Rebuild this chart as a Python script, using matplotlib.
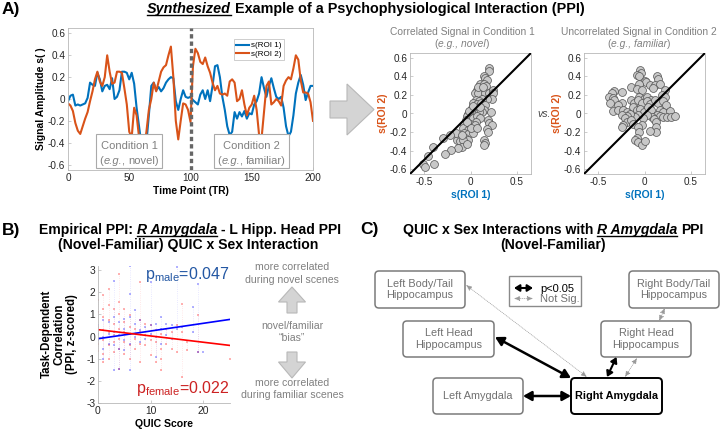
import numpy as np
import matplotlib
matplotlib.use("Agg")
import matplotlib.pyplot as plt
from matplotlib.patches import FancyBboxPatch, Rectangle, Polygon
from matplotlib.ticker import FuncFormatter

plt.rcParams['font.family'] = ['Liberation Sans', 'DejaVu Sans']
plt.rcParams['axes.unicode_minus'] = False
plt.rcParams['mathtext.fontset'] = 'custom'
plt.rcParams['mathtext.rm'] = 'Liberation Sans'
plt.rcParams['mathtext.it'] = 'Liberation Sans:italic'
plt.rcParams['mathtext.bf'] = 'Liberation Sans:bold'

# ---------------- data ----------------
# A) synthesized time series (every 2 TR)
tr = np.arange(0, 201, 2)
roi1 = [-0.02, 0.03, 0.04, -0.06, -0.05, -0.06, -0.05, -0.04, 0.01, 0.15,
        0.13, 0.12, 0.24, 0.18, 0.07, 0.12, 0.13, 0.09, 0.19, 0.0,
        0.02, 0.08, 0.25, 0.25, 0.24, 0.18, 0.24, 0.14, -0.08, -0.25,
        -0.42, -0.5, -0.4, -0.15, 0.12, 0.15, 0.08, 0.11, 0.07, 0.1,
        0.15, 0.18, 0.2, 0.19, -0.02, -0.1, 0.0, 0.08, 0.02, 0.01,
        0.02, -0.01, -0.03, -0.05, 0.04, 0.08, 0.0, 0.08, -0.02, 0.12,
        0.3, 0.31, 0.2, 0.02, -0.1, -0.25, -0.33, -0.3, -0.12, -0.18,
        -0.12, -0.16, -0.11, -0.18, -0.13, -0.14, -0.05, -0.02, 0.05, 0.2,
        0.1, 0.02, 0.12, 0.19, 0.1, 0.02, 0.0, 0.02, -0.08, -0.25,
        -0.34, -0.3, -0.15, 0.05, 0.15, 0.22, 0.13, -0.01, 0.06, 0.12,
        0.12]
roi2 = [-0.04, -0.06, -0.11, -0.22, -0.29, -0.32, -0.25, -0.18, -0.12, -0.02,
        0.07, 0.18, 0.25, 0.16, 0.12, 0.2, 0.40, 0.25, 0.14, 0.15,
        0.25, 0.25, 0.24, 0.1, -0.05, -0.3, -0.35, -0.08, -0.15, -0.35,
        -0.45, -0.45, -0.3, -0.1, 0.0, 0.15, 0.07, 0.16, 0.25, 0.29,
        0.31, 0.4, 0.48, 0.2, -0.2, -0.37, -0.2, -0.04, -0.05, -0.1,
        -0.21, 0.3, 0.46, 0.42, 0.34, 0.32, 0.38, 0.3, 0.24, 0.15,
        0.08, 0.12, 0.05, 0.04, 0.05, 0.03, 0.16, 0.18, 0.15, -0.02,
        0.0, 0.08, -0.05, -0.15, -0.08, -0.05, 0.03, -0.1, -0.33, -0.36,
        -0.12, 0.12, 0.16, -0.05, -0.03, 0.0, -0.02, -0.06, 0.12, 0.17,
        0.2, 0.18, 0.28, 0.4, 0.36, 0.17, 0.06, 0.06, 0.05, -0.03,
        -0.2]

# A) scatter, condition 1 (correlated)
novel_x = [0.199, 0.199, 0.14, 0.156, 0.174, 0.10, 0.14, 0.163, 0.067, 0.113,
           0.05, 0.085, 0.156, 0.199, 0.246, 0.246, 0.235, 0.174, 0.12, 0.056,
           0.092, 0.03, 0.067, 0.113, 0.156, 0.14, 0.12, 0.22, 0.078, 0.092,
           0.03, 0.013, -0.023, -0.005, -0.04, -0.05, -0.005, 0.03, 0.067, 0.1,
           0.056, 0.185, 0.199, 0.235, -0.066, -0.04, -0.005, 0.013, 0.05, -0.076,
           -0.03, 0.02, 0.174, -0.066, -0.023, 0.03, 0.185, -0.06, -0.023, -0.148,
           -0.11, -0.076, -0.087, -0.13, -0.04, 0.15, 0.16, 0.15, -0.16, -0.22,
           -0.30, -0.21, -0.27, -0.40, -0.46, -0.51, -0.49, -0.39, 0.078, 0.13,
           0.013, -0.016, 0.03, -0.04, 0.0, 0.067, -0.09, 0.10]
novel_y = [0.485, 0.46, 0.40, 0.38, 0.36, 0.32, 0.32, 0.30, 0.25, 0.26,
           0.22, 0.22, 0.22, 0.22, 0.25, 0.22, 0.16, 0.16, 0.16, 0.14,
           0.13, 0.11, 0.10, 0.11, 0.09, 0.04, 0.02, 0.02, 0.06, 0.02,
           0.02, 0.0, 0.0, -0.03, -0.03, -0.07, -0.07, -0.05, -0.03, -0.05,
           -0.09, -0.07, -0.10, -0.125, -0.11, -0.14, -0.11, -0.14, -0.125, -0.16,
           -0.18, -0.18, -0.17, -0.21, -0.22, -0.21, -0.20, -0.26, -0.28, -0.29,
           -0.30, -0.29, -0.36, -0.37, -0.33, -0.29, -0.32, -0.34, -0.21, -0.23,
           -0.26, -0.39, -0.44, -0.36, -0.46, -0.54, -0.58, -0.54, 0.28, 0.28,
           0.06, 0.03, 0.08, -0.09, -0.16, -0.16, -0.23, 0.07]

# A) scatter, condition 2 (uncorrelated)
familiar_x = [-0.05, -0.04, -0.077, -0.055, 0.13, 0.15, 0.0, 0.02, -0.055, 0.06,
              0.11, 0.167, -0.14, -0.08, -0.03, 0.095, 0.22, -0.33, -0.35, -0.38,
              -0.335, -0.33, -0.245, -0.06, -0.01, 0.024, 0.067, 0.185, 0.22, -0.14,
              -0.11, -0.066, -0.03, 0.024, 0.06, 0.11, 0.14, -0.245, -0.28, -0.37,
              0.196, 0.23, -0.335, -0.28, -0.23, -0.19, -0.12, -0.08, -0.05, -0.01,
              0.04, 0.075, 0.167, 0.196, 0.27, 0.13, 0.167, 0.2, 0.246, 0.29,
              0.33, 0.078, 0.1, 0.024, -0.02, -0.066, -0.1, -0.155, -0.19, -0.245,
              -0.21, -0.19, -0.14, -0.23, -0.245, -0.12, -0.03, -0.066, 0.12, 0.12,
              0.12, 0.06, -0.055, -0.08, -0.1, -0.066, -0.03, 0.006]
familiar_y = [0.47, 0.44, 0.41, 0.40, 0.40, 0.37, 0.35, 0.34, 0.32, 0.31,
              0.31, 0.32, 0.29, 0.26, 0.25, 0.27, 0.25, 0.245, 0.22, 0.18,
              0.17, 0.14, 0.23, 0.18, 0.16, 0.18, 0.15, 0.20, 0.18, 0.14,
              0.11, 0.14, 0.11, 0.13, 0.10, 0.14, 0.11, 0.11, 0.09, 0.11,
              0.13, 0.09, 0.03, 0.04, 0.04, 0.02, 0.07, 0.04, 0.05, 0.02,
              0.07, 0.04, 0.04, 0.02, 0.027, -0.02, -0.03, -0.04, -0.035, -0.035,
              -0.03, -0.035, -0.06, -0.02, -0.05, -0.02, -0.04, 0.0, -0.03, -0.02,
              -0.05, -0.09, -0.07, -0.12, -0.14, -0.11, -0.125, -0.14, -0.09, -0.14,
              -0.20, -0.19, -0.20, -0.26, -0.29, -0.31, -0.34, -0.30]

# B) empirical PPI vs QUIC score
quic_f = [0, 0, 0, 0, 0, 1, 1, 1, 1, 1, 1, 1, 2, 2, 2, 2, 2, 2,
          3, 3, 3, 3, 3, 4, 4, 4, 4, 4, 4, 4, 5, 5, 5, 5, 5,
          6, 6, 6, 6, 6, 7, 7, 7, 8, 8, 8, 8, 8, 9, 9, 9,
          10, 10, 10, 11, 11, 11, 12, 12, 12, 12, 13, 13, 14, 14,
          15, 15, 16, 16, 16, 17, 17, 19, 19, 25]
ppi_f = [1.66, 1.1, 0.43, -0.32, -0.67, 1.86, 1.26, 0.88, 0.28, -0.17, -0.77, -1.15,
         2.16, 1.4, 0.73, 0.2, -0.4, -1.0, 1.26, 0.58, 0.05, -0.25, -0.7,
         2.83, 1.56, 1.03, 0.35, -0.1, -0.55, -1.45, 1.26, 0.65, 0.2, -0.25, -0.77,
         0.95, 0.43, 0.13, -0.4, -1.0, 0.35, -0.1, -0.58, 2.46, 0.73, 0.2, -0.32, -1.15,
         0.58, 0.05, -0.4, 0.5, -0.17, -0.85, 0.28, -0.25, -1.15,
         0.13, -0.55, -1.0, -1.53, 0.35, -0.32, 0.2, -0.55,
         0.5, -0.7, 1.45, 0.2, -1.83, -0.25, -0.62, 0.95, -0.7, -1.0]
quic_m = [0, 0, 0, 1, 1, 1, 1, 2, 2, 2, 3, 3, 3, 3, 3,
          4, 4, 4, 4, 5, 5, 5, 5, 6, 6, 6, 6, 6, 6, 7, 7, 7,
          8, 8, 8, 9, 9, 10, 10, 10, 11, 11, 11, 12, 12, 12,
          13, 13, 14, 14, 15, 15, 16, 18, 18, 19, 19, 20]
ppi_m = [0.5, 0.13, -0.17, 0.73, -0.02, -0.55, -1.0, 0.65, 0.13, -0.32,
         2.49, 0.88, 0.2, -0.4, -1.53, 0.65, 0.05, -0.55, -1.45,
         0.8, 0.35, -0.17, -0.62, 3.2, 1.93, 0.88, 0.13, -0.32, -1.53,
         1.18, 0.58, -0.02, 0.73, 0.28, -0.25, 0.43, -0.1, 2.46, 0.5, 0.13,
         0.58, -0.02, -0.92, 0.88, 0.35, -0.32, 0.58, 0.05, 0.5, -0.1,
         3.14, 0.35, 0.43, 1.33, 0.2, 2.38, -0.7, -0.7]
fit_x = [0, 25]
fit_male = [-0.10, 0.77]
fit_female = [0.31, -0.40]

BLUE = '#0072BD'
ORANGE = '#D95319'
AX_GRAY = '#b8b8b8'

fig = plt.figure(figsize=(7.2, 4.29), dpi=100)


def px_axes(left, top, right, bottom):
    return fig.add_axes([left / 720, 1 - bottom / 429, (right - left) / 720, (bottom - top) / 429])


def style_axes(ax, size, box=True):
    for side in ['top', 'right', 'left', 'bottom']:
        ax.spines[side].set_color(AX_GRAY)
        ax.spines[side].set_linewidth(0.6)
    if not box:
        ax.spines['top'].set_visible(False)
        ax.spines['right'].set_visible(False)
    ax.tick_params(direction='in', length=2.5, width=0.5, color=AX_GRAY,
                   labelsize=size, labelcolor='#262626', pad=2,
                   top=False, right=False)


fmt = FuncFormatter(lambda v, p: '%g' % round(v, 2))

# ---------------- Panel A: time series ----------------
ax1 = px_axes(68, 28, 313, 170)
ax1.plot(tr, roi1, color=BLUE, lw=1.5, label='s(ROI 1)')
ax1.plot(tr, roi2, color=ORANGE, lw=1.5, label='s(ROI 2)')
ax1.axvline(100, color='#666666', lw=2.4, ls=(0, (1.3, 0.9)), zorder=3)
ax1.set_xlim(0, 200)
ax1.set_ylim(-0.65, 0.65)
ax1.set_xticks([0, 50, 100, 150, 200])
ax1.set_yticks(np.arange(-0.6, 0.61, 0.2))
ax1.yaxis.set_major_formatter(fmt)
style_axes(ax1, 7.2)
ax1.set_xlabel('Time Point (TR)', fontsize=7.4, fontweight='bold', labelpad=2)
ax1.set_ylabel('Signal Amplitude s( )', fontsize=7.4, fontweight='bold', labelpad=1)
leg = ax1.legend(loc='upper right', bbox_to_anchor=(0.88, 0.92), fontsize=5.8,
                 frameon=True, fancybox=False, handlelength=1.6, handletextpad=0.2,
                 borderpad=0.3, labelspacing=0.1, borderaxespad=0)
leg.get_frame().set_edgecolor('#aaaaaa')
leg.get_frame().set_linewidth(0.5)

# ---------------- Panel A: scatters ----------------
for left, xs, ys in [(410, novel_x, novel_y), (584, familiar_x, familiar_y)]:
    ax = px_axes(left, 53, left + 121, 174)
    ax.scatter(xs, ys, s=32, facecolor='#c8c8c8', edgecolor='#505050', linewidth=0.5, zorder=2)
    ax.axline((0, 0), slope=1, color='black', lw=1.5, zorder=3)
    ax.set_xlim(-0.65, 0.65)
    ax.set_ylim(-0.65, 0.65)
    ax.set_xticks([-0.5, 0, 0.5])
    ax.set_yticks(np.arange(-0.6, 0.61, 0.2))
    ax.yaxis.set_major_formatter(fmt)
    ax.xaxis.set_major_formatter(fmt)
    style_axes(ax, 7.2)
    ax.set_xlabel('s(ROI 1)', fontsize=7.5, fontweight='bold', color=BLUE, labelpad=2)
    ax.set_ylabel('s(ROI 2)', fontsize=7.5, fontweight='bold', color=ORANGE, labelpad=1)

# ---------------- Panel B ----------------
axb = px_axes(98, 265.6, 229.6, 403)
for qx, vals, col in [(quic_f, ppi_f, 'red'), (quic_m, ppi_m, 'blue')]:
    qx = np.array(qx)
    vals = np.array(vals)
    for q in np.unique(qx):
        v = vals[qx == q]
        if len(v) > 1:
            axb.vlines(q, v.min(), v.max(), color=col, alpha=0.12, lw=0.6, linestyle=':')
    axb.scatter(qx, vals, s=3, marker='s', color=col, alpha=0.3, linewidths=0)
axb.plot(fit_x, fit_male, color='blue', lw=1.2)
axb.plot(fit_x, fit_female, color='red', lw=1.2)
axb.set_xlim(0, 25)
axb.set_ylim(-3, 3.2)
axb.set_xticks([0, 10, 20])
axb.set_yticks(range(-3, 4))
style_axes(axb, 7.4, box=False)
axb.set_xlabel('QUIC Score', fontsize=7.6, fontweight='bold', labelpad=2)
axb.set_ylabel('Task-Dependent\nCorrelation\n(PPI, z-scored)', fontsize=8.3,
               fontweight='bold', labelpad=6, linespacing=1.05)

# ---------------- overlay in pixel coordinates ----------------
ov = fig.add_axes([0, 0, 1, 1])
ov.set_xlim(0, 720)
ov.set_ylim(429, 0)
ov.axis('off')
renderer = fig.canvas.get_renderer()


def rich(x, y, parts, size, color='black', gap=0.28):
    """parts: list of (text, style, weight, underline); centered at x, baseline y."""
    objs = []
    for s, st, wt, ul in parts:
        t = ov.text(0, y, s, fontsize=size, fontstyle=st, fontweight=wt,
                    color=color, ha='left', va='baseline')
        objs.append((t, ul))
    widths = [t.get_window_extent(renderer).width for t, _ in objs]
    sp = gap * size * 100 / 72
    total = sum(widths) + sp * (len(objs) - 1)
    cur = x - total / 2
    for (t, ul), w in zip(objs, widths):
        t.set_x(cur)
        if ul:
            ov.plot([cur, cur + w], [y + 1.8, y + 1.8], color=color, lw=1.0)
        cur += w + sp


# panel letters and titles
ov.text(2, 14, 'A)', fontsize=12.5, fontweight='bold', va='baseline')
ov.text(2, 235, 'B)', fontsize=12.5, fontweight='bold', va='baseline')
ov.text(360, 234, 'C)', fontsize=12.5, fontweight='bold', va='baseline')

rich(366, 13, [('Synthesized', 'italic', 'bold', True),
               ('Example of a Psychophysiological Interaction (PPI)', 'normal', 'bold', False)], 10.4)
rich(190, 234, [('Empirical PPI:', 'normal', 'bold', False),
                ('R Amygdala', 'italic', 'bold', True),
                ('- L Hipp. Head PPI', 'normal', 'bold', False)], 10.1)
rich(188, 248.5, [('(Novel-Familiar) QUIC x Sex Interaction', 'normal', 'bold', False)], 10.1)
rich(553, 234, [('QUIC x Sex Interactions with', 'normal', 'bold', False),
                ('R Amygdala', 'italic', 'bold', True),
                ('PPI', 'normal', 'bold', False)], 10.1)
rich(553, 248.5, [('(Novel-Familiar)', 'normal', 'bold', False)], 10.1)

# scatter titles
rich(462, 35, [('Correlated Signal in Condition 1', 'normal', 'normal', False)], 7.4, color='#808080')
rich(462, 47, [('(', 'normal', 'normal', False), ('e.g., novel', 'italic', 'normal', False),
               (')', 'normal', 'normal', False)], 7.4, color='#808080', gap=0.02)
rich(639, 35, [('Uncorrelated Signal in Condition 2', 'normal', 'normal', False)], 7.4, color='#808080')
rich(639, 47, [('(', 'normal', 'normal', False), ('e.g., familiar', 'italic', 'normal', False),
               (')', 'normal', 'normal', False)], 7.4, color='#808080', gap=0.02)
ov.text(544, 117, 'vs.', fontsize=7.6, fontstyle='italic', color='#444444', ha='center', va='baseline')

# condition boxes
for x0, x1, lab, ex in [(96, 162, 'Condition 1', 'novel)'), (214, 289, 'Condition 2', 'familiar)')]:
    ov.add_patch(Rectangle((x0, 134), x1 - x0, 34, facecolor='white', edgecolor='#aaaaaa', lw=0.8, zorder=5))
    xc = (x0 + x1) / 2
    ov.text(xc, 149, lab, fontsize=8, color='#808080', ha='center', va='baseline', zorder=6)
    objs = [ov.text(0, 164.5, '(', fontsize=8, color='#808080', va='baseline', zorder=6),
            ov.text(0, 164.5, 'e.g.', fontsize=8, color='#808080', fontstyle='italic', va='baseline', zorder=6),
            ov.text(0, 164.5, ',', fontsize=8, color='#808080', va='baseline', zorder=6),
            ov.text(0, 164.5, ex, fontsize=8, color='#808080', va='baseline', zorder=6)]
    ws = [o.get_window_extent(renderer).width for o in objs]
    gaps = [0.3, -0.8, 3.6, 0]
    cur = xc - (sum(ws) + sum(gaps)) / 2
    for o, w, g in zip(objs, ws, gaps):
        o.set_x(cur)
        cur += w + g

# big arrow between time series and scatters
ov.add_patch(Polygon([(330, 101), (347, 101), (347, 84), (374, 109.5), (347, 135), (347, 118), (330, 118)],
                     closed=True, facecolor='#d4d4d4', edgecolor='#b8b8b8', lw=0.8))

# panel B p-values and side notes
ov.text(229, 279, r'$\mathrm{p}_{\mathrm{male}}$=0.047', fontsize=11.5, color='#2357a3', ha='right', va='baseline')
ov.text(230, 393, r'$\mathrm{p}_{\mathrm{female}}$=0.022', fontsize=11.5, color='#cc2222', ha='right', va='baseline')
for yb, s in [(270, 'more correlated'), (283, 'during novel scenes'), (329, 'novel/familiar'),
              (341, '\u201cbias\u201d'), (386, 'more correlated'), (398, 'during familiar scenes')]:
    ov.text(292, yb, s, fontsize=7.6, color='#808080', ha='center', va='baseline')
ov.add_patch(Polygon([(287, 313), (287, 302), (278.5, 302), (292, 287), (305.5, 302), (297, 302), (297, 313)],
                     closed=True, facecolor='#d4d4d4', edgecolor='#b8b8b8', lw=0.8))
ov.add_patch(Polygon([(287, 352), (297, 352), (297, 362), (305.5, 362), (292, 378), (278.5, 362), (287, 362)],
                     closed=True, facecolor='#d4d4d4', edgecolor='#b8b8b8', lw=0.8))

# ---------------- Panel C diagram ----------------
boxes = [
    (375, 271, 465, 308, 'Left Body/Tail\nHippocampus', False),
    (629, 271, 719, 308, 'Right Body/Tail\nHippocampus', False),
    (403, 321, 494, 357, 'Left Head\nHippocampus', False),
    (601, 321, 691, 357, 'Right Head\nHippocampus', False),
    (433, 378, 523, 414, 'Left Amygdala', False),
    (571, 378, 662, 414, 'Right Amygdala', True),
]
for x0, y0, x1, y1, lab, main in boxes:
    ov.add_patch(FancyBboxPatch((x0, y0), x1 - x0, y1 - y0, boxstyle='round,pad=0,rounding_size=4',
                                facecolor='white', edgecolor='black' if main else '#7a7a7a',
                                lw=1.4 if main else 1.1, zorder=2))
    ov.text((x0 + x1) / 2, (y0 + y1) / 2, lab, fontsize=7.8, ha='center', va='center',
            color='black' if main else '#707070', fontweight='bold' if main else 'normal',
            linespacing=1.15, zorder=3)

# legend box
ov.add_patch(Rectangle((509, 276), 72, 30, facecolor='white', edgecolor='#8a8a8a', lw=1.0, zorder=2))


def link(p0, p1, strong, small=False):
    if strong:
        hl, hw, lw = (0.32, 0.2, 1.5) if small else (0.5, 0.28, 1.8)
        ov.annotate('', xy=p1, xytext=p0, zorder=4,
                    arrowprops=dict(arrowstyle='<|-|>,head_length=%g,head_width=%g' % (hl, hw),
                                    color='black', lw=lw, shrinkA=0, shrinkB=0))
    else:
        ov.annotate('', xy=p1, xytext=p0, zorder=4,
                    arrowprops=dict(arrowstyle='<|-|>,head_length=0.35,head_width=0.15',
                                    color='#9a9a9a', lw=0.5, ls=':', shrinkA=0, shrinkB=0))


link((466, 285), (587, 377), False)
link((495, 337), (571, 378), True)
link((523, 396), (571, 396), True)
link((616.5, 357), (607, 377), True, small=True)
link((637, 358), (625, 377), False)
link((665, 308), (659, 321), False)
link((514, 288), (533, 288), True, small=True)
link((514, 298.5), (533, 298.5), False)
ov.text(540, 291.5, 'p<0.05', fontsize=8, color='black', va='baseline', zorder=3)
ov.text(540, 302, 'Not Sig.', fontsize=8, color='#707070', va='baseline', zorder=3)

fig.savefig('out.png', dpi=100)
